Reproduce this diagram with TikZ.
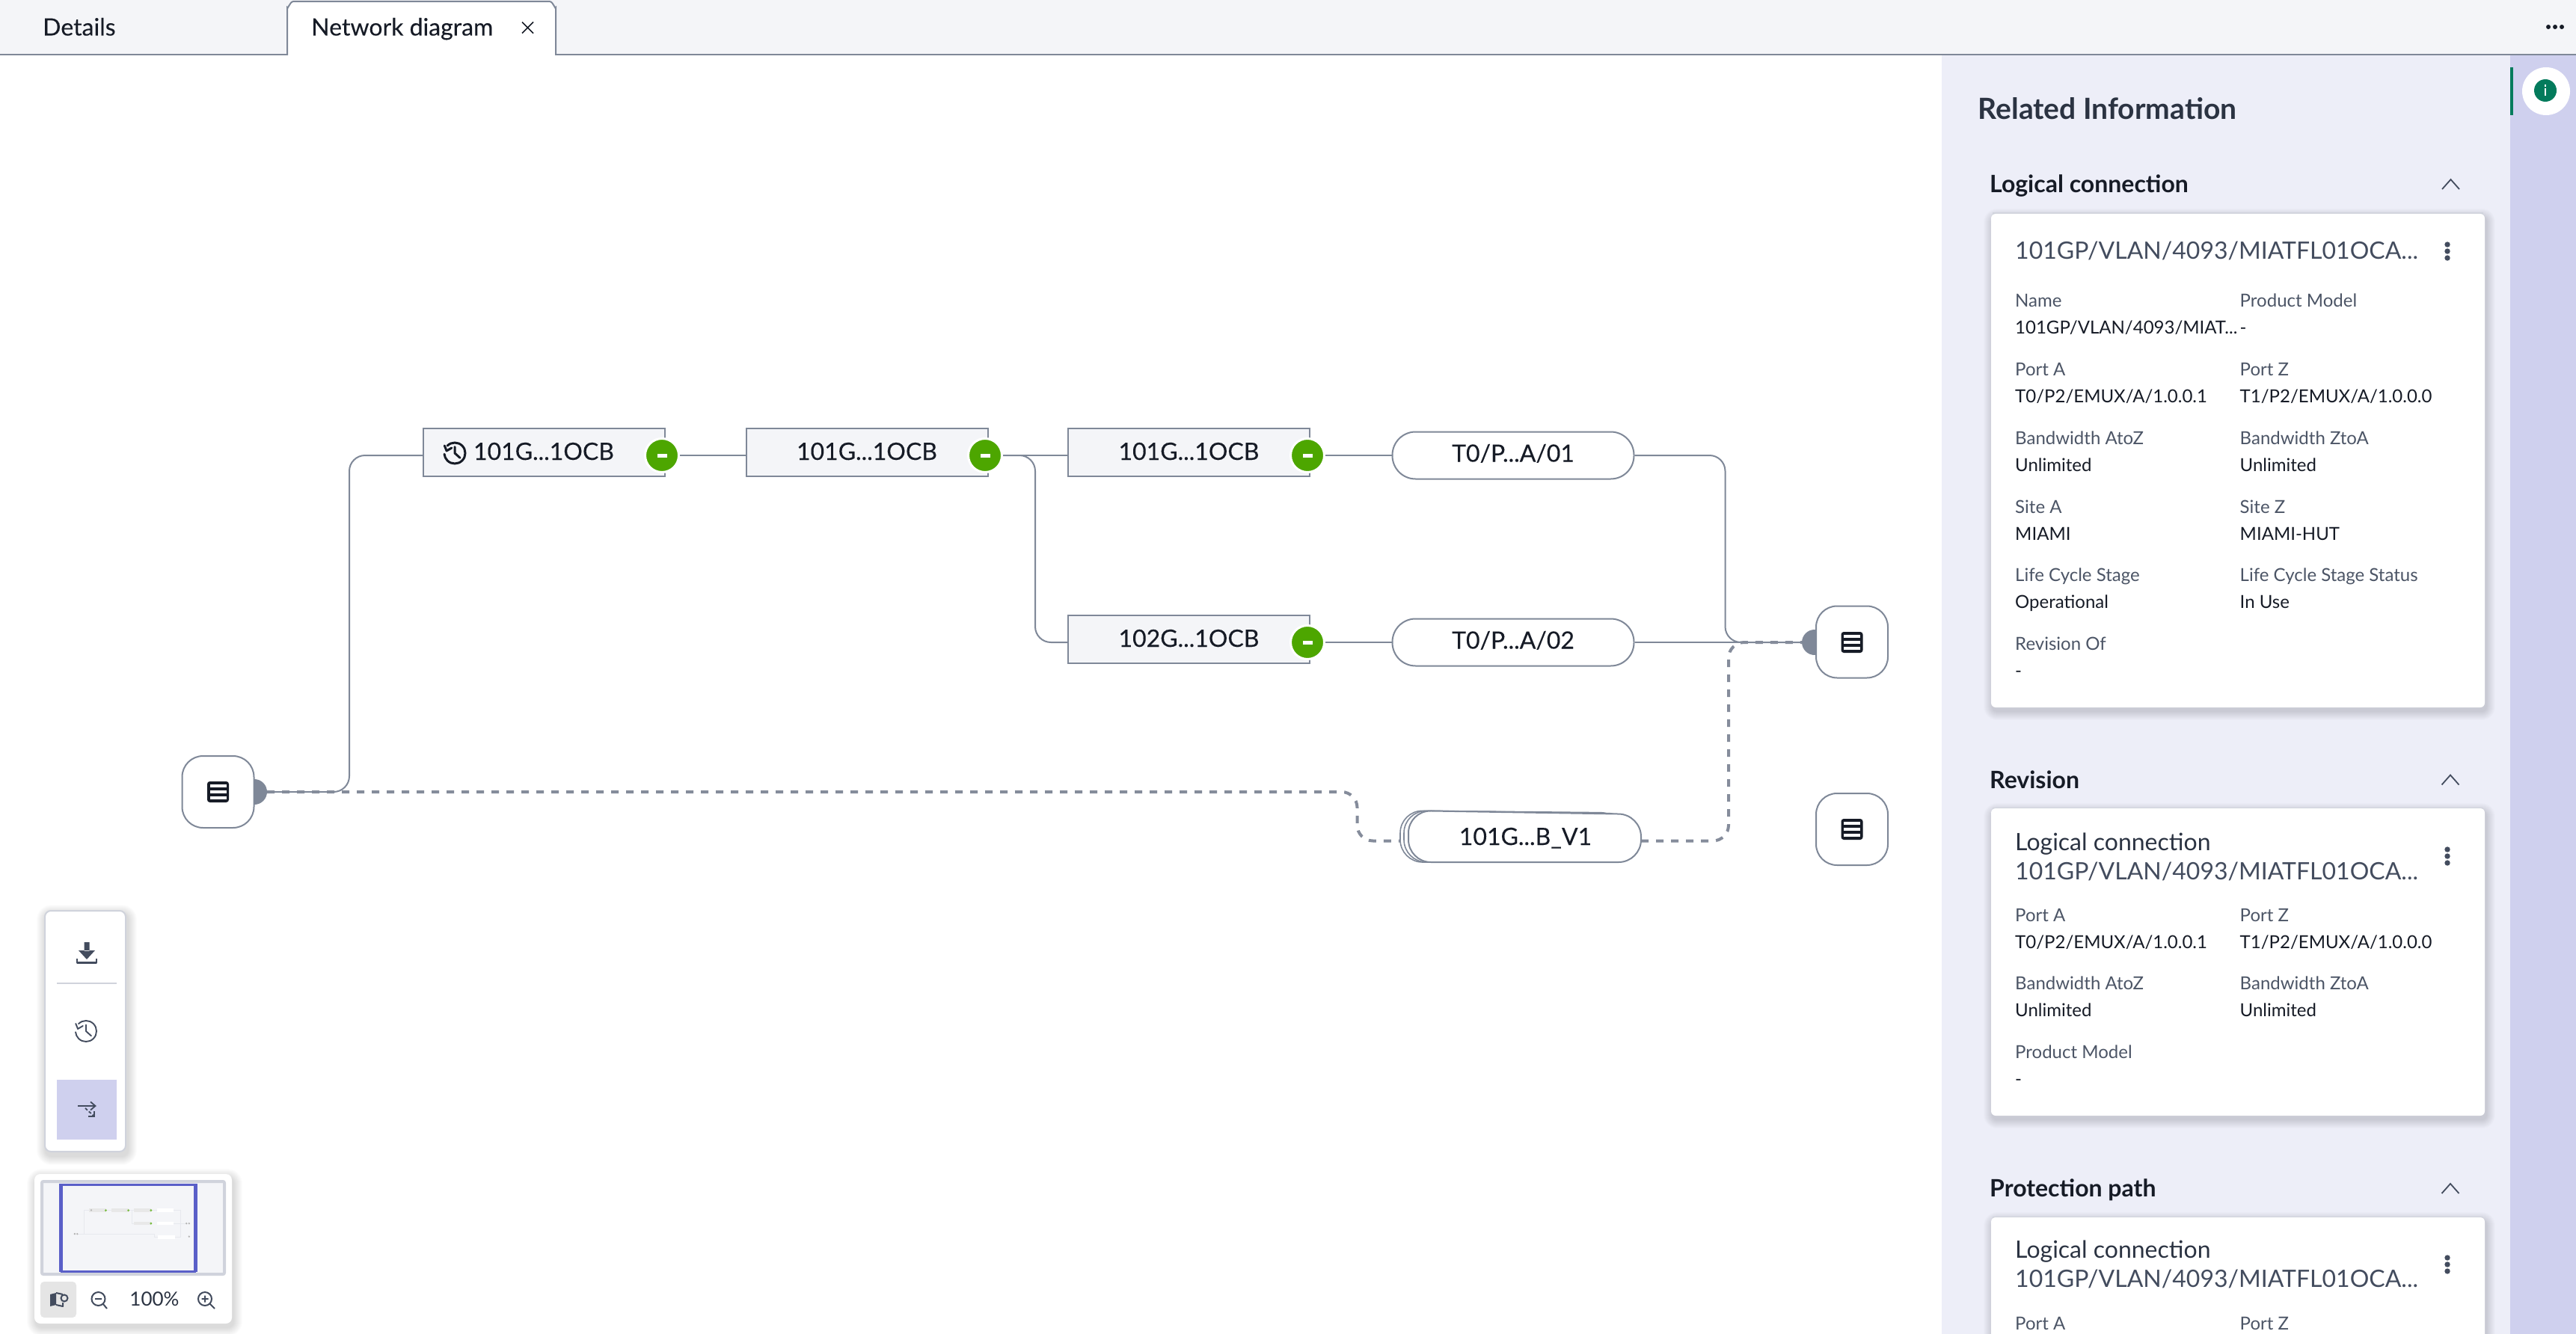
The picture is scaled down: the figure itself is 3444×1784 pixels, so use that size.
\documentclass[tikz,border=0pt]{standalone}
\usepackage{fontspec}
\setmainfont{Lato}
\definecolor{ink}{HTML}{161B26}
\definecolor{edge}{HTML}{7F8898}
\definecolor{dashc}{HTML}{858C9B}
\definecolor{barbg}{HTML}{F4F5F8}
\definecolor{panelbg}{HTML}{EDEEF8}
\definecolor{stripbg}{HTML}{CFD0EE}
\definecolor{heading}{HTML}{2B3342}
\definecolor{titlec}{HTML}{434C5E}
\definecolor{labelc}{HTML}{4C5566}
\definecolor{okgreen}{HTML}{4DA600}
\definecolor{teal}{HTML}{037B5C}
\definecolor{softline}{HTML}{D0D3DC}
\definecolor{viewblue}{HTML}{5A5FC8}
\newcommand\softshadow[5]{\foreach \k in {1,...,12}{\fill[black,opacity=0.011,rounded corners=#5+\k*1pt] (#1-\k+2,#2-\k+5) rectangle (#3+\k+2,#4+\k+5);}}
\newcommand\srvicon[2]{\fill[ink,rounded corners=3.5pt] (#1-14.5,#2-14) rectangle (#1+14.5,#2+14);
 \foreach \d in {-8,0,8}{\fill[white] (#1-11,#2+\d-2) rectangle (#1+11,#2+\d+2);}}
\newcommand\clockicon[5]{\draw[#5,line width=#4,line cap=round] ([shift={(135:#3 pt)}]#1,#2) arc[start angle=135,end angle=-175,radius=#3 pt];
 \draw[#5,line width=#4,line cap=round,line join=round] (#1,#2-0.6*#3) -- (#1,#2) -- (#1+0.5*#3,#2+0.45*#3);
 \draw[#5,line width=#4,line cap=round,line join=round] (#1-#3*0.98,#2-#3*0.72) -- (#1-#3*0.78,#2-#3*0.22) -- (#1-#3*0.3,#2-#3*0.5);}
\newcommand\chevron[2]{\draw[titlec,line width=1.8pt,line join=miter] (#1-11.5,#2+6.5) -- (#1,#2-6.5) -- (#1+11.5,#2+6.5);}
\newcommand\kebab[2]{\foreach \d in {-9,0,9}{\fill[titlec] (#1,#2+\d) circle[radius=3.7pt];}}
\newcommand\fieldpair[5]{\node[flab,name=#1l] at (#2,#3) {#4}; \node[fval,name=#1v] at (#2,#3+36) {#5};}
\tikzset{
 x=1pt,y=-1pt,
 tabtext/.style={anchor=base west,inner sep=0pt,text=ink,font=\fontsize{32}{36}\selectfont\addfontfeature{FakeBold=0.12}},
 rectnode/.style={draw=edge,line width=2pt,fill=barbg,minimum width=323pt,minimum height=64pt,inner sep=0pt,text=ink,text height=21pt,text depth=0pt,font=\fontsize{32}{36}\selectfont\addfontfeature{FakeBold=0.12}},
 pillnode/.style={draw=edge,line width=2pt,fill=white,rounded corners=31pt,minimum width=323pt,minimum height=63pt,inner sep=0pt,text=ink,text height=17pt,text depth=0pt,font=\fontsize{32}{36}\selectfont\addfontfeature{FakeBold=0.12}},
 srvnode/.style={draw=edge,line width=2pt,fill=white,rounded corners=28pt,minimum size=96pt,inner sep=0pt},
 portnode/.style={circle,fill=edge,minimum size=34pt,inner sep=0pt},
 statusdot/.style={circle,draw=white,line width=3pt,fill=okgreen,minimum size=45pt,inner sep=0pt},
 conn/.style={draw=edge,line width=2pt,rounded corners=21pt},
 dashconn/.style={draw=dashc,line width=4pt,dash pattern=on 10pt off 10pt,rounded corners=21pt},
 card/.style={fill=white,rounded corners=6pt},
 paneltitle/.style={anchor=base west,inner sep=0pt,text=heading,font=\fontsize{39}{44}\bfseries\selectfont},
 sectitle/.style={anchor=base west,inner sep=0pt,text=ink,font=\fontsize{32}{36}\bfseries\selectfont},
 cardtitle/.style={anchor=base west,inner sep=0pt,text=titlec,font=\fontsize{32}{38}\selectfont},
 cardhead/.style={anchor=base west,inner sep=0pt,text=heading,font=\fontsize{32}{38}\selectfont},
 flab/.style={anchor=base west,inner sep=0pt,text=labelc,font=\fontsize{24}{28}\selectfont},
 fval/.style={anchor=base west,inner sep=0pt,text=ink,font=\fontsize{24}{28}\selectfont},
}
\begin{document}
\begin{tikzpicture}
\useasboundingbox (0,0) rectangle (3444,1784);
\fill[white] (0,0) rectangle (3444,1784);
% top bar
\fill[barbg] (0,0) rectangle (3444,72);
\fill[edge] (0,72) rectangle (3444,74);
\fill[panelbg] (2596,74) rectangle (3356,1784);
\fill[stripbg] (3356,74) rectangle (3444,1784);
\path[fill=white] (384,75) -- (384,10) to[out=-90,in=180] (392,2) -- (735,2) to[out=0,in=-90] (743,10) -- (743,75) -- cycle;
\draw[edge,line width=2pt] (384,74) -- (384,10) to[out=-90,in=180] (392,2) -- (735,2) to[out=0,in=-90] (743,10) -- (743,74);
\node[tabtext,name=tabdetails] at (57,47.5) {Details};
\node[tabtext,name=tabnet] at (416,47.5) {Network diagram};
\draw[ink,line width=1.6pt] (698,29.5) -- (713,44.5) (713,29.5) -- (698,44.5);
\foreach \xx in {3407,3416,3425}{\fill[ink] (\xx,36) circle[radius=3pt];}
% info tab
\fill[teal] (3356,90) rectangle (3360,154);
\fill[white] (3404,122) circle[radius=32pt];
\fill[teal] (3403,121) circle[radius=15pt];
\fill[white] (3401.8,113.5) rectangle (3404.2,116.5);
\fill[white] (3401.8,118.5) rectangle (3404.2,128.5);
% ports and servers
\node[portnode,name=portL] at (340,1059) {};
\node[portnode,name=portR] at (2426,859) {};
\node[srvnode,name=srvL] at (291.5,1059) {};
\node[srvnode,name=srvR] at (2476,858.5) {};
\node[srvnode,name=srvS] at (2476,1109) {};
\srvicon{291.5}{1059}\srvicon{2476}{859}\srvicon{2476}{1109}
% rect nodes
\node[rectnode,name=r1] at (727,604.5) {101G...1OCB};
\node[rectnode,name=r2] at (1159,604.5) {101G...1OCB};
\node[rectnode,name=r3] at (1589.5,604.5) {101G...1OCB};
\node[rectnode,name=r4] at (1589.5,854.5) {102G...1OCB};
\clockicon{608}{606}{14}{3pt}{ink}
\coordinate (r1in) at (565.5,609);
\coordinate (r2in) at (997.5,609);
\coordinate (r3in) at (1428,609);
\coordinate (r4in) at (1428,859);
\node[statusdot,name=g1] at (885,609) {};
\node[statusdot,name=g2] at (1317,609) {};
\node[statusdot,name=g3] at (1748,609) {};
\node[statusdot,name=g4] at (1748,859) {};
\foreach \xx/\yy in {885/609,1317/609,1748/609,1748/859}{\fill[white] (\xx-6.5,\yy-2.5) rectangle (\xx+6.5,\yy+3);}
% pills
\node[pillnode,name=p1] at (2023,609) {T0/P...A/01};
\node[pillnode,name=p2] at (2023,859) {T0/P...A/02};
% stacked pill
\draw[edge,line width=1.6pt,fill=white,rounded corners=30pt] (1872,1084) -- (2170,1087) -- (2170,1153) -- (1872,1153) -- cycle;
\draw[edge,line width=1.6pt,fill=white,rounded corners=30pt] (1877,1084) -- (2180,1088) -- (2180,1153) -- (1877,1153) -- cycle;
\draw[edge,line width=2pt,fill=white,rounded corners=30pt] (1883,1084) -- (2194,1089) -- (2194,1153) -- (1883,1153) -- cycle;
\node[minimum width=322pt,minimum height=65pt,inner sep=0pt,name=stk] at (2033,1124.5) {};
\node[anchor=base,inner sep=0pt,text=ink,font=\fontsize{32}{36}\selectfont\addfontfeature{FakeBold=0.12},name=stktext] at (2039.5,1130) {101G...B\_V1};
% connectors
\coordinate (a1) at (467,1059);
\coordinate (a2) at (467,609);
\coordinate (b1) at (1384,609);
\coordinate (b2) at (1384,859);
\coordinate (c1) at (2306.5,609);
\coordinate (c2) at (2306.5,859);
\coordinate (d1) at (1814.5,1059);
\coordinate (d2) at (1814.5,1124.5);
\coordinate (e1) at (2311,1124.5);
\coordinate (e2) at (2311,859);
\draw[conn] (portL.east) -- (a1) -- (a2) -- (r1in);
\draw[conn] (g1.east) -- (r2in);
\draw[conn] (g2.east) -- (r3in);
\draw[conn] (g2.east) -- (b1) -- (b2) -- (r4in);
\draw[conn] (g3.east) -- (p1.west);
\draw[conn] (g4.east) -- (p2.west);
\draw[conn] (p1.east) -- (c1) -- (c2) -- (portR.west);
\draw[conn] (p2.east) -- (portR.west);
\draw[dashconn] (portL.east) -- (d1) -- (d2) -- (stk.west);
\draw[dashconn] (stk.east) -- (e1) -- (e2) -- (portR.west);
% side panel
\node[paneltitle,name=relinfo] at (2644.5,160) {Related Information};
\node[sectitle,name=sec1] at (2660,258) {Logical connection};
\chevron{3276.5}{246.5}
\softshadow{2662}{286}{3322}{946}{6pt}
\fill[softline] (2664,284.5) rectangle (3320,290);
\fill[card] (2662,286) rectangle (3322,946);
\node[cardtitle,name=c1t] at (2694,347) {101GP/VLAN/4093/MIATFL01OCA...};
\kebab{3272}{336}
\fieldpair{fa}{2694}{410}{Name}{101GP/VLAN/4093/MIAT...}
\fieldpair{fb}{2994.5}{410}{Product Model}{-}
\fieldpair{fc}{2694}{502}{Port A}{T0/P2/EMUX/A/1.0.0.1}
\fieldpair{fd}{2994.5}{502}{Port Z}{T1/P2/EMUX/A/1.0.0.0}
\fieldpair{fe}{2694}{594}{Bandwidth AtoZ}{Unlimited}
\fieldpair{ff}{2994.5}{594}{Bandwidth ZtoA}{Unlimited}
\fieldpair{fg}{2694}{686}{Site A}{MIAMI}
\fieldpair{fh}{2994.5}{686}{Site Z}{MIAMI-HUT}
\fieldpair{fi}{2694}{777.5}{Life Cycle Stage}{Operational}
\fieldpair{fj}{2994.5}{777.5}{Life Cycle Stage Status}{In Use}
\fieldpair{fk}{2694}{869.5}{Revision Of}{-}
% revision
\node[sectitle,name=sec2] at (2660,1054) {Revision};
\chevron{3276}{1043}
\softshadow{2662}{1081}{3322}{1492}{6pt}
\fill[softline] (2664,1079.5) rectangle (3320,1085);
\fill[card] (2662,1081) rectangle (3322,1492);
\node[cardhead,name=c2h] at (2694,1137) {Logical connection};
\node[cardtitle,name=c2t] at (2694,1176) {101GP/VLAN/4093/MIATFL01OCA...};
\kebab{3272}{1145}
\fieldpair{ga}{2694}{1232}{Port A}{T0/P2/EMUX/A/1.0.0.1}
\fieldpair{gb}{2994.5}{1232}{Port Z}{T1/P2/EMUX/A/1.0.0.0}
\fieldpair{gc}{2694}{1323}{Bandwidth AtoZ}{Unlimited}
\fieldpair{gd}{2994.5}{1323}{Bandwidth ZtoA}{Unlimited}
\fieldpair{ge}{2694}{1415}{Product Model}{-}
% protection
\node[sectitle,name=sec3] at (2660,1600) {Protection path};
\chevron{3276}{1589.5}
\softshadow{2662}{1628}{3322}{1830}{6pt}
\fill[softline] (2664,1626.5) rectangle (3320,1632);
\fill[card] (2662,1628) rectangle (3322,1830);
\node[cardhead,name=c3h] at (2694,1682) {Logical connection};
\node[cardtitle,name=c3t] at (2694,1721) {101GP/VLAN/4093/MIATFL01OCA...};
\kebab{3272}{1691}
\node[flab,name=h3a] at (2694,1778) {Port A};
\node[flab,name=h3b] at (2994.5,1778) {Port Z};
% toolbar
\softshadow{59}{1217}{169}{1541}{8pt}
\draw[softline,line width=2pt,fill=white,rounded corners=8pt] (60,1218) rectangle (168,1540);
\fill[titlec] (112.5,1260) rectangle (119.5,1272) (105,1271) -- (127,1271) -- (116,1283) -- cycle;
\draw[titlec,line width=2.4pt,line join=round] (103,1282) -- (103,1287.5) -- (129,1287.5) -- (129,1282);
\fill[softline] (76,1314) rectangle (156,1316);
\clockicon{115}{1379}{14}{1.9pt}{titlec}
\fill[stripbg] (76,1444) rectangle (156,1524);
\draw[titlec,line width=1.8pt] (104,1479) -- (127,1479) (121,1473.5) -- (127.5,1479) -- (121,1484.5);
\draw[titlec,line width=1.8pt,dash pattern=on 4pt off 2.5pt] (114,1482) -- (125,1492);
\draw[titlec,line width=1.8pt] (118,1493) -- (126,1493) -- (126,1486);
% minimap
\softshadow{46}{1570}{310}{1770}{8pt}
\fill[white,rounded corners=8pt] (46,1570) rectangle (310,1770);
\draw[softline,line width=4pt,fill=barbg,rounded corners=2pt] (56,1580) rectangle (300,1704);
\begin{scope}[shift={(79.5,1576)},x=.07pt,y=-.07pt]
 \draw[softline!35!barbg,line width=.5pt] (340,1059) -- (467,1059) -- (467,609) -- (565,609) (889,609) -- (1900,609) (2185,609) -- (2306,609) -- (2306,859) -- (2428,859) (1384,609) -- (1384,859) -- (1427,859) (2185,859) -- (2306,859) (340,1059) -- (1814,1059) -- (1814,1124) -- (1872,1124) (2194,1124) -- (2311,1124) -- (2311,859);
 \foreach \xa/\ya in {565/572,997/572,1427/572,1427/822}{\fill[black!9] (\xa,\ya) rectangle (\xa+324,\ya+65);}
 \foreach \xa/\ya in {1861/577,1861/827,1883/1089}{\fill[white] (\xa,\ya) rectangle (\xa+320,\ya+64);}
 \foreach \xa/\ya in {885/609,1317/609,1748/609,1748/859}{\fill[okgreen!75!white] (\xa,\ya) circle[radius=1.6pt];}
 \foreach \xa/\ya in {608/605,291/1059,340/1059,2426/859,2476/859,2476/1109}{\fill[black!30] (\xa,\ya) circle[radius=1.3pt];}
\end{scope}
\draw[viewblue,line width=3pt] (81,1584) -- (262,1584) (81,1700) -- (262,1700);
\draw[viewblue,line width=4.5pt] (81.5,1583) -- (81.5,1701) (261.5,1583) -- (261.5,1701);
\fill[black!10,rounded corners=5pt] (54,1714) rectangle (102,1762);
\fill[titlec] (67,1731) -- (75,1729) -- (75,1745) -- (67,1747) -- cycle;
\draw[titlec,line width=2pt,line join=round] (75,1729) -- (84,1731) (75,1745) -- (84,1747) -- (84,1742);
\draw[titlec,line width=2pt] (86,1736) circle[radius=4.5pt];
\draw[titlec,line width=2pt] (131.5,1737) circle[radius=9pt] (127,1737) -- (136,1737) (138,1744) -- (143,1750);
\node[anchor=base,inner sep=0pt,text=heading,font=\fontsize{26}{30}\selectfont,name=zoomlbl] at (206.5,1746) {100\%};
\draw[titlec,line width=2pt] (274,1737) circle[radius=9pt] (269.5,1737) -- (278.5,1737) (274,1732.5) -- (274,1741.5) (281,1744) -- (287,1750);
\end{tikzpicture}
\end{document}
